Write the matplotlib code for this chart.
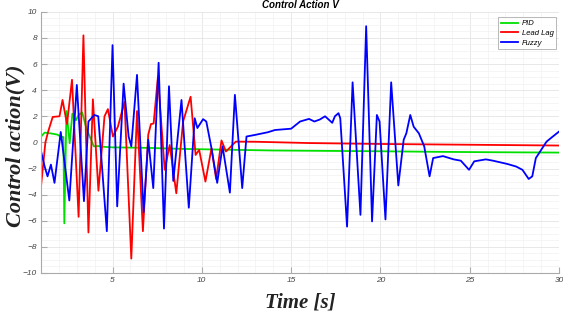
import numpy as np
import matplotlib.pyplot as plt
from matplotlib.ticker import MultipleLocator

# PID (green)
pid_t = [1.0, 1.2, 1.5, 1.9, 2.1, 2.25, 2.3, 2.42, 2.6, 2.75, 2.95, 3.1, 3.3, 3.55, 3.8, 3.95,
         4.2, 4.4, 5.0, 7.0, 9.0, 11.0, 14.0, 17.0, 20.0, 23.0, 26.0, 30.0]
pid_v = [0.45, 0.75, 0.7, 0.6, 0.45, 0.4, -6.2, 2.4, -0.07, 2.2, 1.7, 2.1, 2.3, 1.0, 0.2, -0.3,
         -0.28, -0.33, -0.38, -0.42, -0.5, -0.55, -0.62, -0.65, -0.68, -0.72, -0.75, -0.78]

# Lead Lag (red)
lead_t = [1.0, 1.24, 1.4, 1.65, 2.03, 2.2, 2.45, 2.73, 3.1, 3.37, 3.65, 3.9, 4.21, 4.55, 4.74,
          5.02, 5.3, 5.67, 6.05, 6.37, 6.7, 7.0, 7.15, 7.3, 7.54, 7.92, 8.2, 8.57, 8.95, 9.37,
          9.65, 9.85, 10.2, 10.54, 10.8, 11.1, 11.35, 11.9, 13.0, 16.0, 20.0, 25.0, 30.0]
lead_v = [-3.3, 0.0, 0.85, 1.95, 2.0, 3.25, 1.4, 4.8, -5.7, 8.2, -6.9, 3.3, -3.7, 2.0, 2.55,
          0.45, 1.2, 3.1, -8.9, 2.4, -6.8, 0.6, 1.4, 1.45, 5.0, -2.1, -0.2, -3.9, 1.6, 3.5,
          -0.96, -0.57, -3.0, -0.45, -2.8, 0.15, -0.7, 0.06, 0.05, -0.05, -0.12, -0.18, -0.24]

# Fuzzy (blue)
fuzzy_t = [1.0, 1.2, 1.36, 1.55, 1.75, 2.1, 2.58, 3.0, 3.4, 3.65, 3.98, 4.2, 4.68, 5.0, 5.26,
           5.62, 5.9, 6.05, 6.37, 6.74, 7.0, 7.28, 7.58, 7.88, 8.16, 8.4, 8.86, 9.27, 9.6, 9.75,
           10.07, 10.25, 10.54, 10.86, 11.16, 11.57, 11.85, 12.26, 12.5, 13.0, 13.7, 14.1, 15.0,
           15.5, 16.0, 16.3, 16.6, 16.9, 17.3, 17.45, 17.65, 17.75, 18.13, 18.44, 18.88, 19.2,
           19.53, 19.8, 19.95, 20.28, 20.6, 21.0, 21.3, 21.45, 21.67, 21.86, 22.15, 22.45,
           22.75, 22.95, 23.5, 24.1, 24.5, 24.96, 25.25, 25.9, 26.3, 27.1, 27.6, 27.95, 28.3,
           28.5, 28.7, 29.0, 29.3, 29.65, 30.0]
fuzzy_v = [-0.7, -1.85, -2.6, -1.7, -3.1, 0.8, -4.45, 4.4, -4.5, 1.6, 2.1, 2.0, -6.8, 7.45,
           -4.9, 4.5, 0.45, -0.3, 5.17, -5.35, 0.2, -3.5, 6.1, -6.6, 4.3, -2.95, 3.25, -5.0,
           1.85, 1.1, 1.78, 1.6, -0.45, -3.1, -0.3, -3.85, 3.64, -3.5, 0.45, 0.58, 0.78, 0.95,
           1.05, 1.6, 1.8, 1.6, 1.75, 2.0, 1.5, 2.0, 2.24, 1.85, -6.45, 4.6, -5.55, 8.9, -6.05,
           2.1, 1.6, -5.9, 4.6, -3.3, 0.2, 0.7, 2.1, 1.2, 0.7, -0.3, -2.6, -1.2, -1.05, -1.3,
           -1.4, -2.1, -1.45, -1.3, -1.4, -1.65, -1.85, -2.1, -2.8, -2.6, -1.2, -0.57, 0.06,
           0.45, 0.83]

fig = plt.figure(figsize=(5.63, 3.2), dpi=100)
ax = fig.add_axes([0.073, 0.147, 0.92, 0.816])

ax.plot(pid_t, pid_v, color='#00e000', lw=1.3, label='PID')
ax.plot(lead_t, lead_v, color='#ff0000', lw=1.3, label='Lead Lag')
ax.plot(fuzzy_t, fuzzy_v, color='#0000ff', lw=1.3, label='Fuzzy')

ax.set_xlim(1, 30)
ax.set_ylim(-10, 10)
ax.xaxis.set_major_locator(MultipleLocator(5))
ax.xaxis.set_minor_locator(MultipleLocator(1))
ax.yaxis.set_major_locator(MultipleLocator(2))
ax.yaxis.set_minor_locator(MultipleLocator(0.5))
ax.grid(True, which='major', color='#e4e4e4', lw=0.6)
ax.grid(True, which='minor', color='#f2f2f2', lw=0.5)
ax.set_axisbelow(True)

for s in ['top', 'right']:
    ax.spines[s].set_visible(False)
for s in ['left', 'bottom']:
    ax.spines[s].set_color('#aaaaaa')
ax.tick_params(which='major', direction='in', length=4, color='#aaaaaa', labelsize=6,
               labelcolor='#444444', pad=3)
ax.tick_params(which='minor', length=0)
for lab in ax.get_xticklabels() + ax.get_yticklabels():
    lab.set_fontstyle('italic')
    lab.set_family('Liberation Sans')

ax.set_title('Control Action V', fontsize=7, fontweight='bold', fontstyle='italic',
             family='Liberation Sans', pad=3)
ax.set_xlabel('Time [s]', fontsize=15, fontweight='bold', fontstyle='italic',
              family='Liberation Serif', color='#222222', labelpad=6)
ax.set_ylabel('Control action(V)', fontsize=16, fontweight='bold', fontstyle='italic',
              family='Liberation Serif', color='#222222')
ax.yaxis.label.set_va('center')
ax.yaxis.set_label_coords(-0.05, 0.487)

leg = ax.legend(loc='upper right', bbox_to_anchor=(0.998, 0.985),
                prop={'family': 'Liberation Sans', 'style': 'italic', 'size': 5.5},
                fancybox=False, edgecolor='#999999', handlelength=2.3, handletextpad=0.5,
                borderpad=0.35, labelspacing=0.3, borderaxespad=0.2)
leg.get_frame().set_linewidth(0.6)

fig.savefig('out.png', dpi=100)
